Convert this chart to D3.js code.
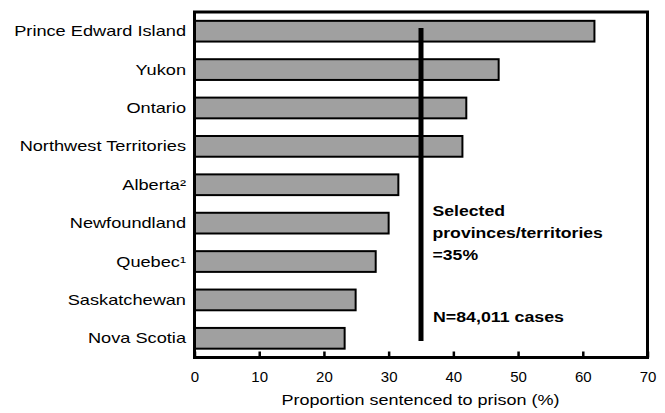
<!DOCTYPE html>
<html>
<head>
<meta charset="utf-8">
<script src="https://cdn.jsdelivr.net/npm/d3@7/dist/d3.min.js"></script>
<style>
  html, body { margin: 0; padding: 0; background: #fff; }
  svg { display: block; font-family: Arial, "Liberation Sans", Helvetica, sans-serif; }
</style>
</head>
<body>
<svg id="chart" width="665" height="413"></svg>
<script>
// Share of guilty cases sentenced to prison, by province/territory
const regions = ["Prince Edward Island", "Yukon", "Ontario", "Northwest Territories",
                 "Alberta\u00B2", "Newfoundland", "Quebec\u00B9", "Saskatchewan", "Nova Scotia"];
const prisonPct = [61.8, 47.0, 42.0, 41.4, 31.5, 30.0, 28.0, 24.9, 23.2];
const overallPct = 35;
const xTicks = [0, 10, 20, 30, 40, 50, 60, 70];
const noteLines = ["Selected", "provinces/territories", "=35%"];
const caseNote = "N=84,011 cases";
const xTitle = "Proportion sentenced to prison (%)";

const svg = d3.select("#chart");
const plotLeft = 194.5, plotRight = 647.5, plotTop = 12, plotBottom = 357.5;

const x = d3.scaleLinear().domain([0, 70]).range([plotLeft, plotRight]);
const y = d3.scaleBand().domain(regions).range([plotTop, plotBottom]).paddingInner(0.46).paddingOuter(0.23);

// bars
svg.append("g").selectAll("rect")
  .data(regions.map((r, i) => ({ r, v: prisonPct[i] })))
  .join("rect")
  .attr("x", x(0))
  .attr("y", d => y(d.r))
  .attr("width", d => x(d.v) - x(0))
  .attr("height", y.bandwidth())
  .attr("fill", "#a0a0a0")
  .attr("stroke", "#000")
  .attr("stroke-width", 2);

// overall rate marker
svg.append("line")
  .attr("x1", x(overallPct)).attr("x2", x(overallPct))
  .attr("y1", 28).attr("y2", 341)
  .attr("stroke", "#000").attr("stroke-width", 5);

// plot frame
svg.append("rect")
  .attr("x", plotLeft).attr("y", plotTop)
  .attr("width", plotRight - plotLeft).attr("height", plotBottom - plotTop)
  .attr("fill", "none").attr("stroke", "#000").attr("stroke-width", 3);

// x axis with inward ticks
const xAxis = svg.append("g")
  .attr("transform", `translate(0,${plotBottom})`)
  .call(d3.axisBottom(x).tickValues(xTicks).tickFormat(d3.format("d"))
        .tickSizeInner(-6).tickSizeOuter(0).tickPadding(13.5));
xAxis.select(".domain").remove();
xAxis.selectAll(".tick line").attr("stroke", "#000").attr("stroke-width", 2.5);
xAxis.selectAll(".tick text").attr("fill", "#000").attr("font-size", 15)
  .attr("font-family", "Arial, 'Liberation Sans', sans-serif");

// category labels
const yAxis = svg.append("g")
  .attr("transform", `translate(${plotLeft},0)`)
  .call(d3.axisLeft(y).tickSize(0).tickPadding(0));
yAxis.select(".domain").remove();
yAxis.selectAll(".tick text")
  .attr("x", null)
  .attr("dy", "0.36em")
  .attr("fill", "#000")
  .attr("font-size", 14)
  .attr("font-family", "Arial, 'Liberation Sans', sans-serif")
  .attr("transform", "translate(-8.5,0) scale(1.3,1)");

// axis title
svg.append("text")
  .attr("transform", `translate(420.5,405) scale(1.2,1)`)
  .attr("text-anchor", "middle")
  .attr("font-size", 15)
  .attr("fill", "#000")
  .text(xTitle);

// annotation
const noteY = [216, 238, 260];
svg.append("g").selectAll("text")
  .data(noteLines)
  .join("text")
  .attr("transform", (d, i) => `translate(432.5,${noteY[i]}) scale(1.26,1)`)
  .attr("font-size", 14)
  .attr("font-weight", "bold")
  .attr("fill", "#000")
  .text(d => d);

svg.append("text")
  .attr("transform", "translate(433,321.5) scale(1.27,1)")
  .attr("font-size", 14)
  .attr("font-weight", "bold")
  .attr("fill", "#000")
  .text(caseNote);
</script>
</body>
</html>
